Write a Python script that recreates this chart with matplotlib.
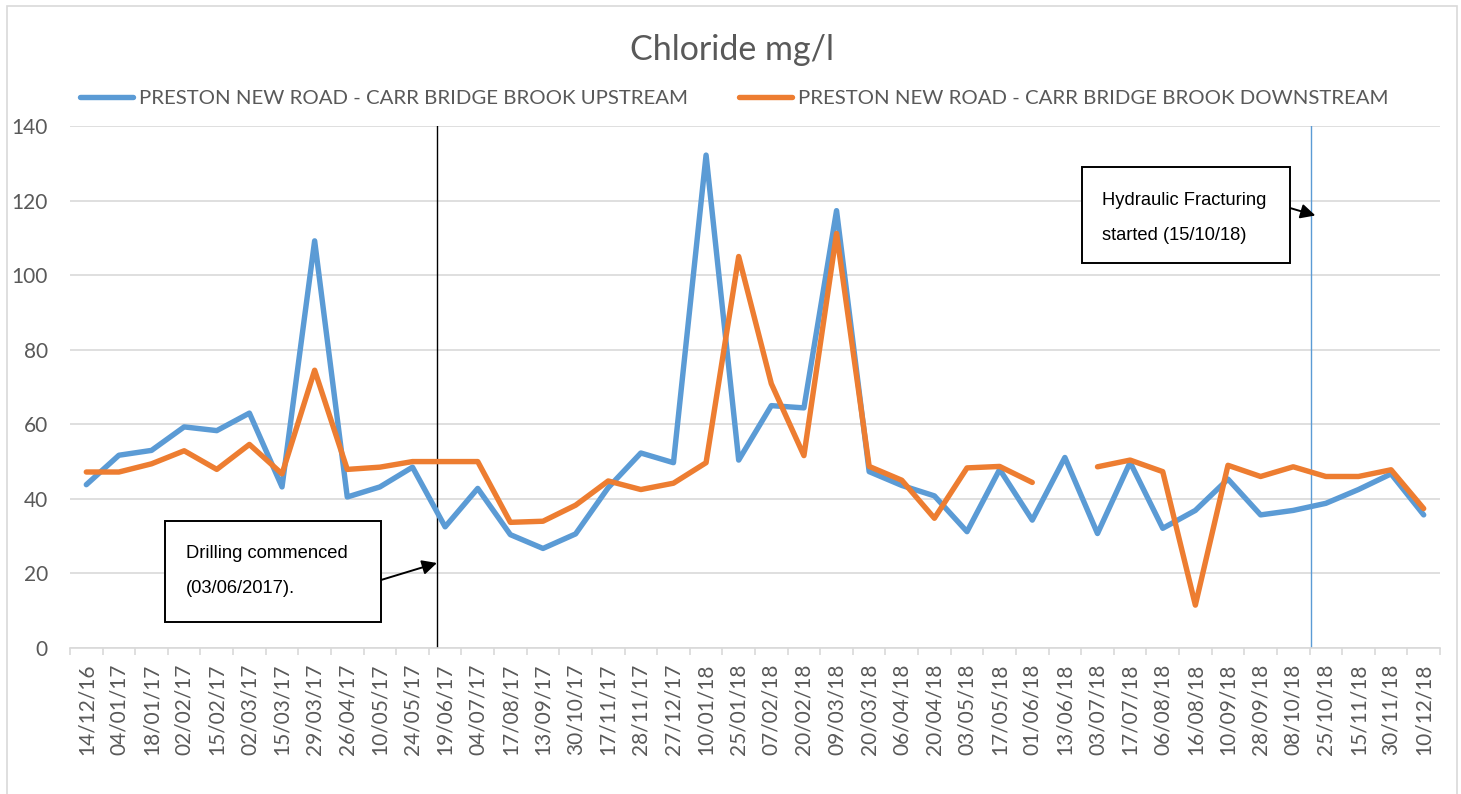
"""Chloride mg/l - Preston New Road, Carr Bridge Brook"""

import matplotlib.pyplot as plt
import numpy as np
from matplotlib.patches import Rectangle

dates = [
    "14/12/16", "04/01/17", "18/01/17", "02/02/17", "15/02/17", "02/03/17",
    "15/03/17", "29/03/17", "26/04/17", "10/05/17", "24/05/17", "19/06/17",
    "04/07/17", "17/08/17", "13/09/17", "30/10/17", "17/11/17", "28/11/17",
    "27/12/17", "10/01/18", "25/01/18", "07/02/18", "20/02/18", "09/03/18",
    "20/03/18", "06/04/18", "20/04/18", "03/05/18", "17/05/18", "01/06/18",
    "13/06/18", "03/07/18", "17/07/18", "06/08/18", "16/08/18", "10/09/18",
    "28/09/18", "08/10/18", "25/10/18", "15/11/18", "30/11/18", "10/12/18",
]
upstream = [
    43.8, 51.7, 53.0, 59.3, 58.3, 63.0, 43.2, 109.2, 40.5, 43.2, 48.5, 32.5,
    42.8, 30.4, 26.7, 30.6, 43.0, 52.3, 49.7, 132.2, 50.4, 65.0, 64.4, 117.3,
    47.3, 43.6, 40.8, 31.2, 47.9, 34.3, 51.1, 30.7, 49.8, 32.1, 36.9, 45.3,
    35.7, 36.9, 38.8, 42.5, 46.7, 35.7,
]
downstream = [
    47.2, 47.2, 49.4, 52.9, 47.9, 54.6, 46.7, 74.5, 47.9, 48.5, 50.0, 50.0,
    50.0, 33.7, 34.0, 38.3, 44.8, 42.5, 44.2, 49.7, 105.0, 70.9, 51.6, 111.2,
    48.7, 45.0, 34.8, 48.3, 48.7, 44.4, np.nan, 48.6, 50.4, 47.3, 11.5, 49.0,
    46.0, 48.6, 46.0, 46.0, 47.8, 37.4,
]
y_ticks = [0, 20, 40, 60, 80, 100, 120, 140]
labels = [
    "PRESTON NEW ROAD - CARR BRIDGE BROOK UPSTREAM",
    "PRESTON NEW ROAD - CARR BRIDGE BROOK DOWNSTREAM",
]
# event markers (category positions as drawn on the chart)
drilling_x = 10.75
fracking_x = 37.53

W, H = 1461, 794
BLUE = "#5B9BD5"
ORANGE = "#ED7D31"
GREY = "#595959"
GRID = "#D9D9D9"

plt.rcParams["font.family"] = ["Lato", "DejaVu Sans"]


def px(x, y):
    """pixel position (from top-left) to figure fraction"""
    return x / W, 1 - y / H


fig = plt.figure(figsize=(W / 100, H / 100), dpi=100)
ax = fig.add_axes([70 / W, 1 - 648 / H, (1440 - 70) / W, (648 - 126) / H])

x = np.arange(len(dates))
ax.plot(x, upstream, color=BLUE, lw=3.9, solid_joinstyle="round",
        solid_capstyle="round", label=labels[0], zorder=3)
ax.plot(x, downstream, color=ORANGE, lw=3.9, solid_joinstyle="round",
        solid_capstyle="round", label=labels[1], zorder=3)

ax.set_xlim(-0.5, len(dates) - 0.5)
ax.set_ylim(0, 140)
ax.set_yticks(y_ticks)
ax.yaxis.grid(True, color=GRID, lw=1.2)
ax.set_axisbelow(True)
ax.tick_params(axis="y", length=0, pad=16, labelsize=15, labelcolor=GREY)

ax.set_xticks(x)
ax.set_xticklabels(dates, rotation=90)
ax.set_xticks(np.arange(-0.5, len(dates)), minor=True)
ax.tick_params(axis="x", which="major", length=0, pad=11, labelsize=15,
               labelcolor=GREY)
ax.tick_params(axis="x", which="minor", length=5, color=GRID, width=1.2)
for side in ["left", "right", "top"]:
    ax.spines[side].set_visible(False)
ax.spines["bottom"].set_color(GRID)
ax.spines["bottom"].set_linewidth(1.2)

# event lines
ax.axvline(drilling_x, color="black", lw=1.0, zorder=2)
ax.axvline(fracking_x, color=BLUE, lw=1.0, zorder=2)

fig.text(*px(732, 50), "Chloride mg/l", ha="center", va="center",
         fontsize=24.5, color=GREY)
fig.legend(loc="center", bbox_to_anchor=px(734, 98), ncol=2, frameon=False,
           fontsize=14.7, labelcolor=GREY, handlelength=2.6, handletextpad=0.3,
           columnspacing=2.5)

# annotation boxes
ann_font = ["Liberation Sans", "DejaVu Sans"]
for (x0, y0, x1, y1), txt, (tx, ty), tip, tail in [
    ((165, 521, 381, 622), "Drilling commenced\n(03/06/2017).", (186, 571),
     (drilling_x, 22.8), (381, 580)),
    ((1082, 167, 1290, 263), "Hydraulic Fracturing\nstarted (15/10/18)",
     (1102, 218), (fracking_x + 0.15, 116), (1290, 208)),
]:
    fig.patches.append(Rectangle(px(x0, y1), (x1 - x0) / W, (y1 - y0) / H,
                                 transform=fig.transFigure, facecolor="white",
                                 edgecolor="black", lw=1.4, zorder=5))
    fig.text(*px(tx, ty), txt, ha="left", va="center", fontsize=13.2,
             family=ann_font, linespacing=2.4, zorder=6)
    ax.annotate("", xy=tip, xycoords="data", xytext=px(*tail),
                textcoords="figure fraction",
                arrowprops=dict(arrowstyle="-|>", color="black", lw=1.4,
                                mutation_scale=22, shrinkA=0, shrinkB=0),
                zorder=6)

# chart border
fig.patches.append(Rectangle(px(7, 820), (1457 - 7) / W, (820 - 6) / H,
                             transform=fig.transFigure, fill=False,
                             edgecolor=GRID, lw=1.2))

fig.savefig("out.png", dpi=100, facecolor="white")
